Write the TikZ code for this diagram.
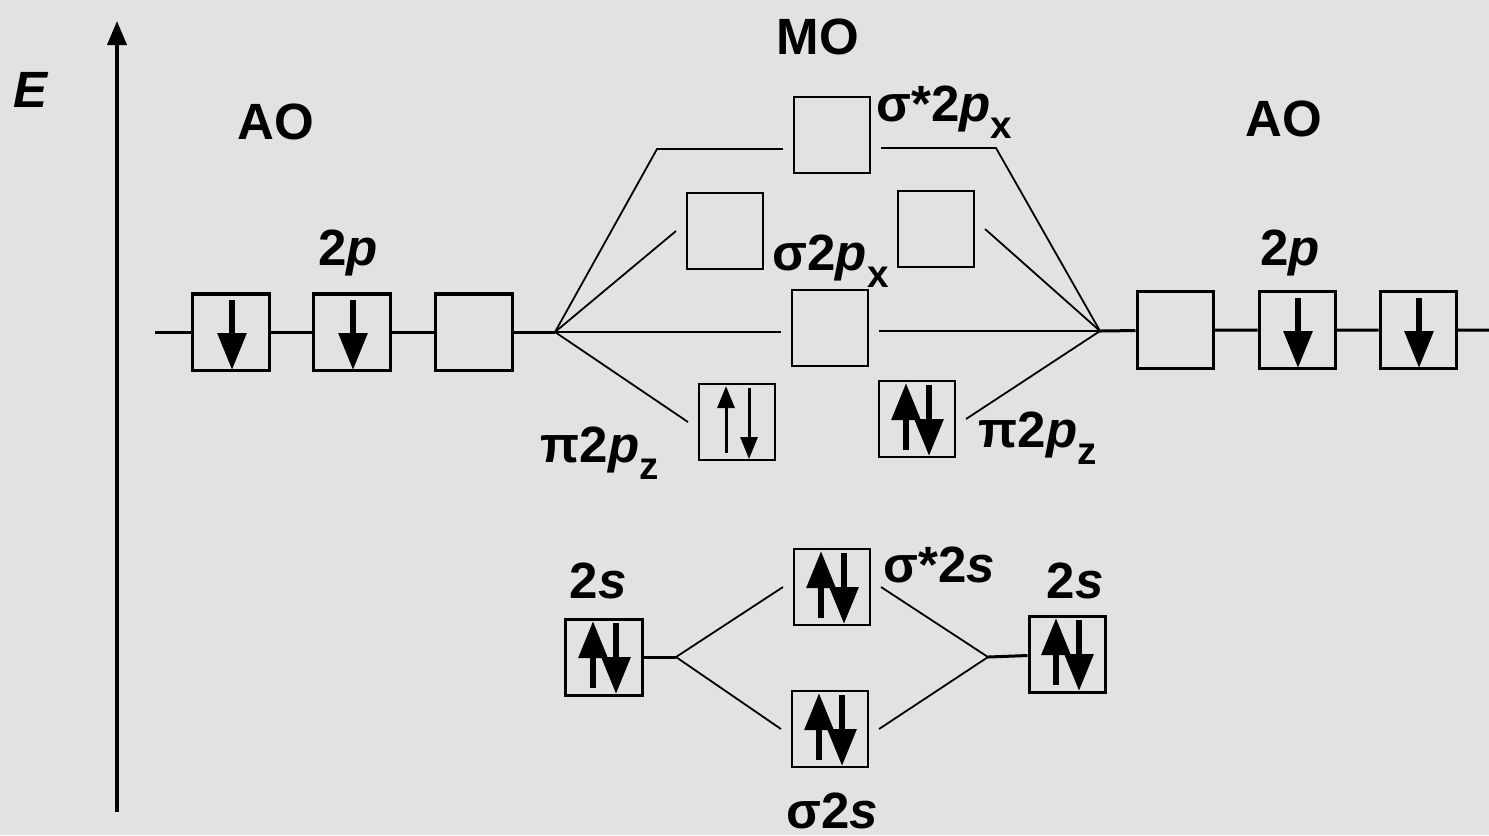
\documentclass[tikz,border=0pt]{standalone}
\usepackage{fontspec}
\setmainfont{Liberation Sans}
\usetikzlibrary{arrows.meta}
\definecolor{marble}{RGB}{226,226,226}
\newcommand{\lowsub}[1]{\raisebox{-0.65ex}{\fontsize{11}{11}\selectfont #1}}
\newcommand{\spinpair}[2][spinb]{%
 \draw[#1] ([shift={(-11,31)}]#2.center) -- ([shift={(-11,-36)}]#2.center);
 \draw[#1] ([shift={(12,-34)}]#2.center) -- ([shift={(12,37)}]#2.center);}
\newcommand{\spindown}[1]{%
 \draw[spinb] ([shift={(1,-32)}]#1.center) -- ([shift={(1,38)}]#1.center);}

\begin{document}
\begin{tikzpicture}[x=0.01cm, y=-0.01cm,
 lbl/.style={inner sep=0pt, font=\fontsize{14.5}{17}\selectfont\bfseries},
 obox/.style={draw, line width=0.03cm, minimum size=0.76cm, inner sep=0pt},
 mobox/.style={draw, line width=0.025cm, minimum size=0.76cm, inner sep=0pt, outer sep=0.11cm},
 lvl/.style={line width=0.03cm},
 fan/.style={line width=0.018cm},
 spinb/.style={line width=0.06cm, -{Triangle[length=0.37cm, width=0.28cm]}},
 spint/.style={line width=0.03cm, -{Triangle[length=0.22cm, width=0.17cm]}}]
\useasboundingbox (0,0) rectangle (1489,835);
\fill[marble] (0,0) rectangle (1489,835);

\coordinate (ebot) at (117,812);
\coordinate (etop) at (117,21);
\draw[line width=0.04cm, -{Triangle[length=0.24cm, width=0.19cm]}] (ebot) -- (etop);

\node[obox] (la) at (231,332) {};
\node[obox] (lb) at (352,332) {};
\node[obox] (lc) at (474,332) {};
\node[obox] (ra) at (1175,330) {};
\node[obox] (rb) at (1297,330) {};
\node[obox] (rc) at (1418,330) {};
\node[obox] (ls) at (604,657) {};
\node[obox] (rs) at (1067,654) {};

\node[mobox] (sa) at (832,135) {};
\node[mobox] (xl) at (725,231) {};
\node[mobox] (xr) at (936,229) {};
\node[mobox] (pm) at (830,328) {};
\node[mobox] (pl) at (737,422) {};
\node[mobox] (pr) at (917,419) {};
\node[mobox] (ss) at (832,587) {};
\node[mobox] (sb) at (830,729) {};

\coordinate (lend) at (155,332);
\coordinate (rend) at (1489,330);
\coordinate (L) at (555,332);
\coordinate (R) at (1100,331);
\coordinate (ak) at (657,149);
\coordinate (bk) at (996,148);
\coordinate (ks) at (676,657);
\coordinate (kr) at (988,657);

\draw[lvl] (lend) -- (la) (la) -- (lb) (lb) -- (lc) (lc) -- (L);
\draw[lvl] (R) -- (ra) (ra) -- (rb) (rb) -- (rc) (rc) -- (rend);
\draw[fan] (L) -- (ak) -- (ak -| sa.west);
\draw[fan] (sa.east |- bk) -- (bk) -- (R);
\draw[fan] (L) -- (xl.west);
\draw[fan] (xr.east) -- (R);
\draw[fan] (L) -- (L -| pm.west);
\draw[fan] (R -| pm.east) -- (R);
\draw[fan] (L) -- (pl.west);
\draw[fan] (pr.east) -- (R);
\draw[lvl] (ls) -- (ks);
\draw[lvl] (kr) -- (rs);
\draw[fan] (ks) -- (ss.west) (ks) -- (sb.west);
\draw[fan] (kr) -- (ss.east) (kr) -- (sb.east);

\spindown{la} \spindown{lb} \spindown{rb} \spindown{rc}
\spinpair[spint]{pl}
\spinpair{pr} \spinpair{ss} \spinpair{sb} \spinpair{ls} \spinpair{rs}

\node[lbl, anchor=base west] (e) at (13,107) {\itshape E};
\node[lbl, anchor=base] (aol) at (276,139) {AO};
\node[lbl, anchor=base] (aor) at (1284,136) {AO};
\node[lbl, anchor=base] (mo) at (818,54) {MO};
\node[lbl, anchor=base] (tpl) at (348,265) {2\textit{p}};
\node[lbl, anchor=base] (tpr) at (1290,265) {2\textit{p}};
\node[lbl, anchor=base west] (lsa) at (876,121) {σ*2\textit{p}\lowsub{x}};
\node[lbl, anchor=base west] (lsx) at (772,270) {σ2\textit{p}\lowsub{x}};
\node[lbl, anchor=base west] (lpl) at (540,462) {π2\textit{p}\lowsub{z}};
\node[lbl, anchor=base west] (lpr) at (978,447) {π2\textit{p}\lowsub{z}};
\node[lbl, anchor=base] (tsl) at (598,598) {2\textit{s}};
\node[lbl, anchor=base west] (lss) at (883,582) {σ*2\textit{s}};
\node[lbl, anchor=base] (tsr) at (1075,598) {2\textit{s}};
\node[lbl, anchor=base] (lsb) at (832,828) {σ2\textit{s}};
\end{tikzpicture}
\end{document}
